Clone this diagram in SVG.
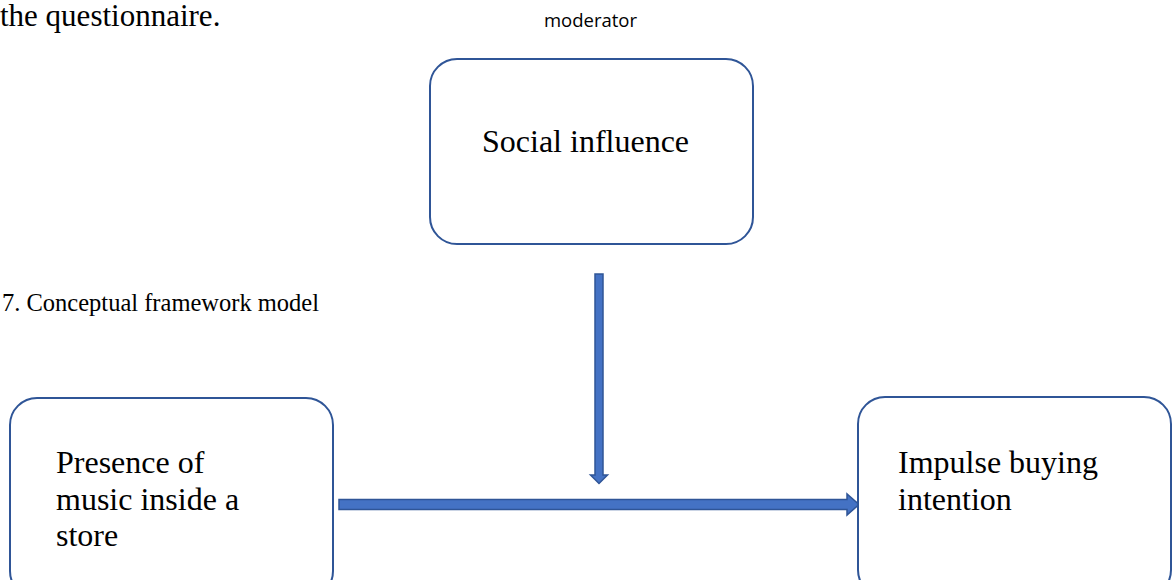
<svg xmlns="http://www.w3.org/2000/svg" width="1173" height="580" viewBox="0 0 1173 580">
  <style>
    .box { fill: #ffffff; stroke: #2F5597; stroke-width: 2; }
    .lbl { font-family: "Liberation Serif", "Times New Roman", serif; font-size: 32px; fill: #000000; }
    .top { font-family: "Liberation Serif", "Times New Roman", serif; font-size: 31px; fill: #000000; }
    .cap { font-family: "Liberation Serif", "Times New Roman", serif; font-size: 24.5px; fill: #000000; }
    .mod { font-family: "Open Sans", "Liberation Sans", sans-serif; font-size: 18.5px; fill: #000000; }
    .arrow { fill: #4472C4; stroke: #2F5597; stroke-width: 1.5; stroke-linejoin: miter; }
  </style>
  <rect width="1173" height="580" fill="#ffffff"/>

  <text class="top" x="0" y="26">the questionnaire.</text>
  <text class="mod" x="590.5" y="27" text-anchor="middle">moderator</text>
  <text class="cap" x="2" y="311">7. Conceptual framework model</text>

  <g id="connectors">
    <polygon class="arrow" points="339,499.5 847,499.5 847,494 859,504.5 847,515 847,509.5 339,509.5"/>
    <polygon class="arrow" points="595,274 603,274 603,475 607.5,475 599,483.5 590.5,475 595,475"/>
  </g>

  <g id="node-social">
    <rect class="box" x="430" y="59" width="323" height="185" rx="27" ry="27"/>
    <text class="lbl" x="482" y="152">Social influence</text>
  </g>

  <g id="node-presence">
    <rect class="box" x="10" y="398" width="323" height="200" rx="27" ry="27"/>
    <text class="lbl" x="56" y="473">Presence of</text>
    <text class="lbl" x="56" y="510">music inside a</text>
    <text class="lbl" x="56" y="546">store</text>
  </g>

  <g id="node-impulse">
    <rect class="box" x="858" y="397" width="313" height="200" rx="27" ry="27"/>
    <text class="lbl" x="898" y="473">Impulse buying</text>
    <text class="lbl" x="898" y="510">intention</text>
  </g>
</svg>
